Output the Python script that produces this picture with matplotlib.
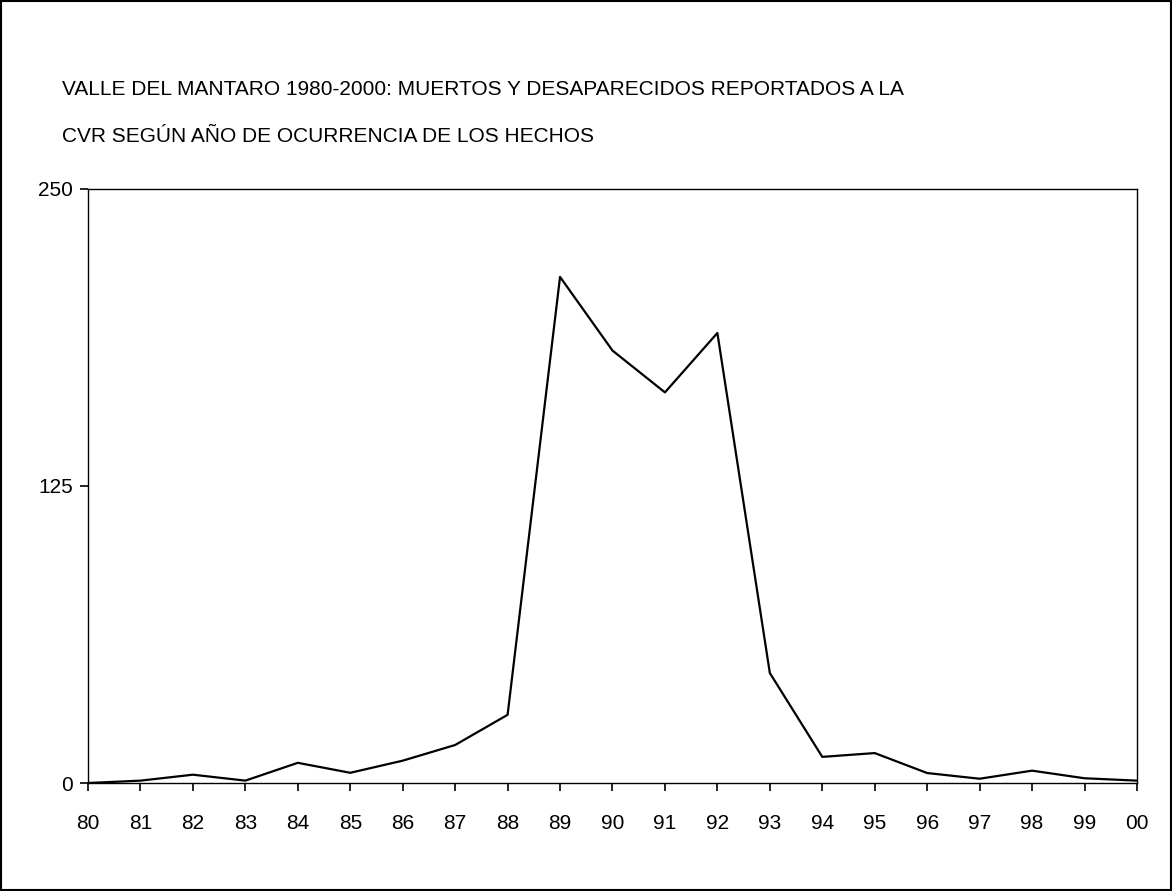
import matplotlib.pyplot as plt
from matplotlib.patches import Rectangle

plt.rcParams['font.family'] = ['Liberation Sans', 'DejaVu Sans']

years = ['80', '81', '82', '83', '84', '85', '86', '87', '88', '89', '90',
         '91', '92', '93', '94', '95', '96', '97', '98', '99', '00']
muertos = [0, 1, 3.5, 1, 8.5, 4.3, 9.4, 16, 28.7, 213, 182,
           164.4, 189.4, 46.3, 11, 12.6, 4.2, 1.8, 5.2, 2, 1]
yticks = [0, 125, 250]

title_lines = ['VALLE DEL MANTARO 1980-2000: MUERTOS Y DESAPARECIDOS REPORTADOS A LA',
               'CVR SEGÚN AÑO DE OCURRENCIA DE LOS HECHOS']

fig = plt.figure(figsize=(11.72, 8.91), dpi=100)
ax = fig.add_axes([0.0751, 0.1212, 0.8950, 0.6667])

x = list(range(len(years)))
ax.plot(x, muertos, color='black', linewidth=1.6)
ax.set_xlim(0, len(years) - 1)
ax.set_ylim(0, 250)
ax.set_xticks(x)
ax.set_xticklabels(years)
ax.set_yticks(yticks)
ax.tick_params(direction='out', length=6, width=1.2, labelsize=15)
ax.tick_params(axis='x', pad=16)
ax.tick_params(axis='y', pad=5)
for s in ax.spines.values():
    s.set_linewidth(1)

fig.text(0.053, 0.899, title_lines[0], fontsize=15, va='center', ha='left')
fig.text(0.053, 0.847, title_lines[1], fontsize=15, va='center', ha='left')

fig.patches.append(Rectangle((0.001, 0.001), 0.998, 0.998, transform=fig.transFigure,
                             fill=False, edgecolor='black', linewidth=1.5))

fig.savefig('out.png', dpi=100)
